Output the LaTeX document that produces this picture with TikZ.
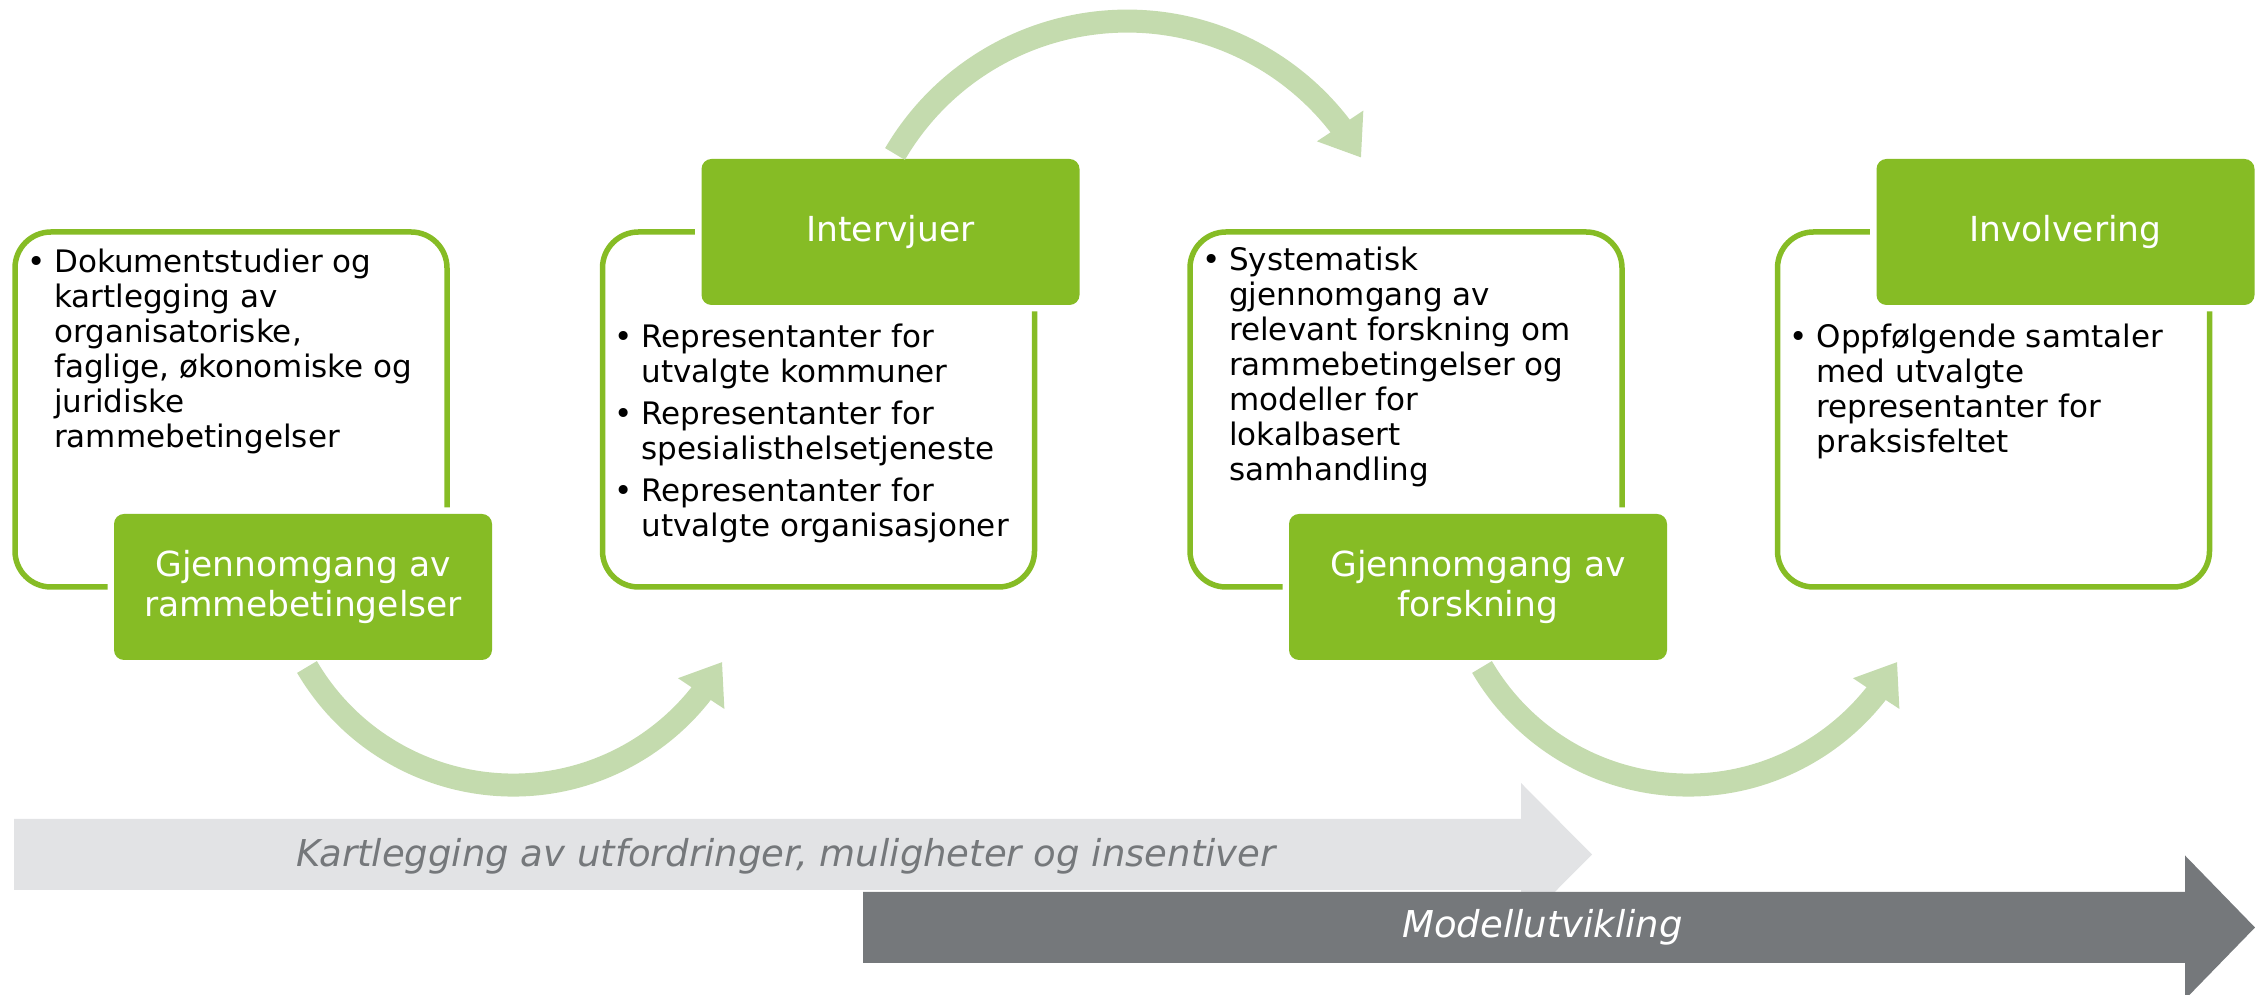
\documentclass[tikz,border=0pt]{standalone}
\usepackage{fontspec}
\setmainfont{DejaVu Sans}
\usepackage{xcolor}
\usetikzlibrary{arrows.meta,bending}

\definecolor{dgreen}{HTML}{86BC25}
\definecolor{lgreen}{HTML}{C4DBAE}
\definecolor{lgrey}{HTML}{E2E3E5}
\definecolor{dgrey}{HTML}{75787B}

% bullet with fixed indent
\newcommand{\bl}{\makebox[27pt][l]{\textbullet}}

\tikzset{
	frame/.style={draw=dgreen, line width=5.5pt, rounded corners=36pt,
		minimum width=432pt, minimum height=355pt, inner sep=0pt, outer sep=0pt},
	phase/.style={fill=dgreen, rounded corners=10pt, minimum width=378pt,
		minimum height=146pt, outer sep=0pt, text=white, align=center,
		font=\fontsize{34.5}{40}\selectfont,
		preaction={draw=white, line width=13pt}},
	items/.style={anchor=base west, inner sep=0pt, font=\fontsize{31}{35}\selectfont},
	flow/.style={draw=lgreen, line width=23pt, -{Triangle[length=38pt,width=53pt]}},
	band/.style={font=\fontsize{37}{44}\selectfont\itshape, anchor=base, inner sep=0pt}
}

\begin{document}
\begin{tikzpicture}[x=1pt,y=1pt]
	\useasboundingbox (0,0) rectangle (2255,995);

	% timeline arrows
	\fill[lgrey] (14,176) -- (1521,176) -- (1521,212) -- (1592,140.5) -- (1521,69) -- (1521,105) -- (14,105) -- cycle;
	\fill[dgrey] (863,103) -- (2185,103) -- (2185,139.5) -- (2255,67.5) -- (2185,-4.5) -- (2185,32) -- (863,32) -- cycle;
	\node[band, text=dgrey] (kart) at (786,128) {Kartlegging av utfordringer, muligheter og insentiver};
	\node[band, text=white] (modell) at (1542.5,57) {Modellutvikling};

	% frames
	\node[frame] (o1) at (231,585.5) {};
	\node[frame] (o2) at (818.5,585.5) {};
	\node[frame] (o3) at (1406,585.5) {};
	\node[frame] (o4) at (1993.5,585.5) {};

	% bullet texts
	\node[items] (t1) at ([shift={(12pt,-41pt)}]o1.north west) {\begin{tabular}[t]{@{}l@{}l@{}}
		\bl & Dokumentstudier og\\ & kartlegging av\\ & organisatoriske,\\
		& faglige, økonomiske og\\ & juridiske\\ & rammebetingelser
	\end{tabular}};
	\node[items] (t2) at ([shift={(12pt,-116pt)}]o2.north west) {\begin{tabular}[t]{@{}l@{}l@{}}
		\bl & Representanter for\\ & utvalgte kommuner\\[7pt]
		\bl & Representanter for\\ & spesialisthelsetjeneste\\[7pt]
		\bl & Representanter for\\ & utvalgte organisasjoner
	\end{tabular}};
	\node[items] (t3) at ([shift={(12pt,-39pt)}]o3.north west) {\begin{tabular}[t]{@{}l@{}l@{}}
		\bl & Systematisk\\ & gjennomgang av\\ & relevant forskning om\\
		& rammebetingelser og\\ & modeller for\\ & lokalbasert\\ & samhandling
	\end{tabular}};
	\node[items] (t4) at ([shift={(12pt,-116pt)}]o4.north west) {\begin{tabular}[t]{@{}l@{}l@{}}
		\bl & Oppfølgende samtaler\\ & med utvalgte\\ & representanter for\\ & praksisfeltet
	\end{tabular}};

	% phase labels
	\node[phase] (g1) at ([xshift=72pt]o1.south) {Gjennomgang av\\rammebetingelser};
	\node[phase] (g2) at ([xshift=72pt]o2.north) {Intervjuer};
	\node[phase] (g3) at ([xshift=72pt]o3.south) {Gjennomgang av\\forskning};
	\node[phase] (g4) at ([xshift=72pt]o4.north) {Involvering};

	% curved arrows between the phases
	\draw[flow] ([shift={(4pt,-7pt)}]g1.south) arc[start angle=210.4, end angle=331, radius=239pt];
	\draw[flow] ([shift={(4.5pt,5pt)}]g2.north) arc[start angle=149.6, end angle=29.5, radius=269pt];
	\draw[flow] ([shift={(4pt,-7pt)}]g3.south) arc[start angle=210.4, end angle=331, radius=239pt];
\end{tikzpicture}
\end{document}
